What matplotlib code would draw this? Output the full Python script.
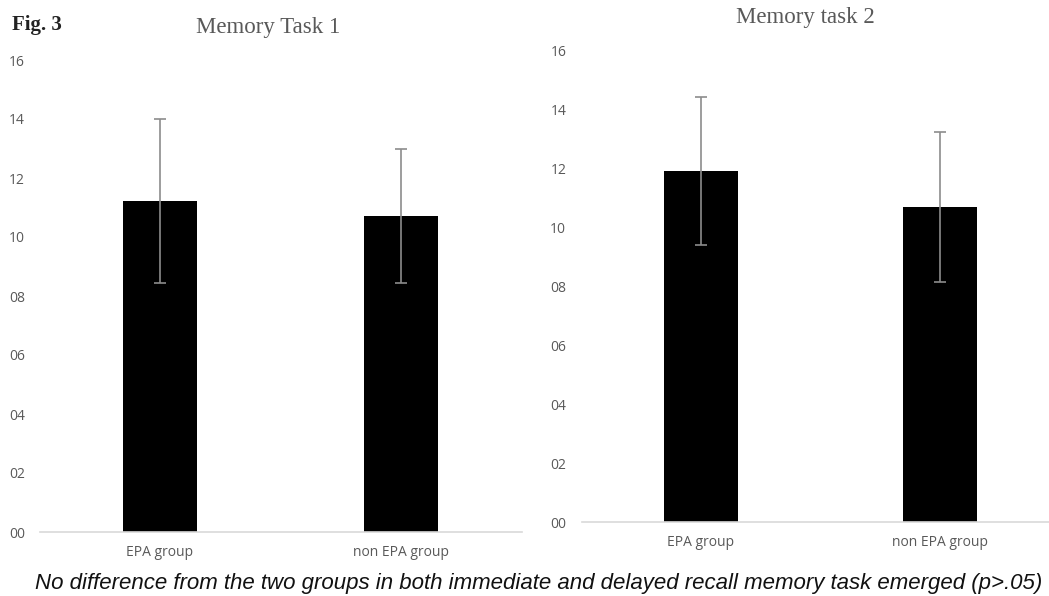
import matplotlib
matplotlib.use("Agg")
import matplotlib.pyplot as plt

# Data
groups = ["EPA group", "non EPA group"]
task1_means = [11.22, 10.71]
task1_err = [2.77, 2.28]
task2_means = [11.92, 10.70]
task2_err = [2.52, 2.56]
y_ticks = [0, 2, 4, 6, 8, 10, 12, 14, 16]
y_tick_labels = ["00", "02", "04", "06", "08", "10", "12", "14", "16"]

W, H = 1049, 596
fig = plt.figure(figsize=(W / 100, H / 100), dpi=100)

tick_font = ["Open Sans", "DejaVu Sans"]
tick_color = "#595959"


def draw_panel(rect, means, errs, ypad):
    ax = fig.add_axes(rect)
    x = range(len(groups))
    ax.bar(x, means, width=0.307, color="black", zorder=2)
    ax.errorbar(x, means, yerr=errs, fmt="none", ecolor="#8c8c8c",
                elinewidth=1.2, capsize=4, capthick=1.2, zorder=3)
    ax.set_xlim(-0.5, 1.5)
    ax.set_ylim(0, 16)
    ax.set_yticks(y_ticks)
    ax.set_yticklabels(y_tick_labels)
    ax.set_xticks(list(x))
    ax.set_xticklabels(groups)
    for side in ("top", "right", "left"):
        ax.spines[side].set_visible(False)
    ax.spines["bottom"].set_color("#d9d9d9")
    ax.spines["bottom"].set_linewidth(1.2)
    ax.tick_params(axis="both", length=0, colors=tick_color, labelsize=10)
    ax.tick_params(axis="y", pad=ypad)
    ax.tick_params(axis="x", pad=9)
    for lab in ax.get_xticklabels() + ax.get_yticklabels():
        lab.set_family(tick_font)
    ax.set_facecolor("none")
    return ax


ax1 = draw_panel([39.5 / W, 1 - 532 / H, 482 / W, (532 - 60) / H],
                 task1_means, task1_err, 10.5)
ax2 = draw_panel([581.5 / W, 1 - 522 / H, 478 / W, (522 - 51) / H],
                 task2_means, task2_err, 11)

serif = ["Liberation Serif", "DejaVu Serif"]
fig.text(268 / W, 1 - 28 / H, "Memory Task 1", ha="center", va="center",
         family=serif, fontsize=16.5, color="#595959")
fig.text(805 / W, 1 - 18 / H, "Memory task 2", ha="center", va="center",
         family=serif, fontsize=16.5, color="#595959")
fig.text(12 / W, 1 - 25 / H, "Fig. 3", ha="left", va="center",
         family=serif, fontsize=15, fontweight="bold", color="#222222")

fig.text(539 / W, 1 - 583 / H,
         "No difference from the two groups in both immediate and delayed "
         "recall memory task emerged (p>.05)",
         ha="center", va="center", style="italic",
         family=["Liberation Sans Narrow", "Liberation Sans", "DejaVu Sans"],
         fontsize=16, color="#111111")

fig.savefig("out.png", dpi=100)
